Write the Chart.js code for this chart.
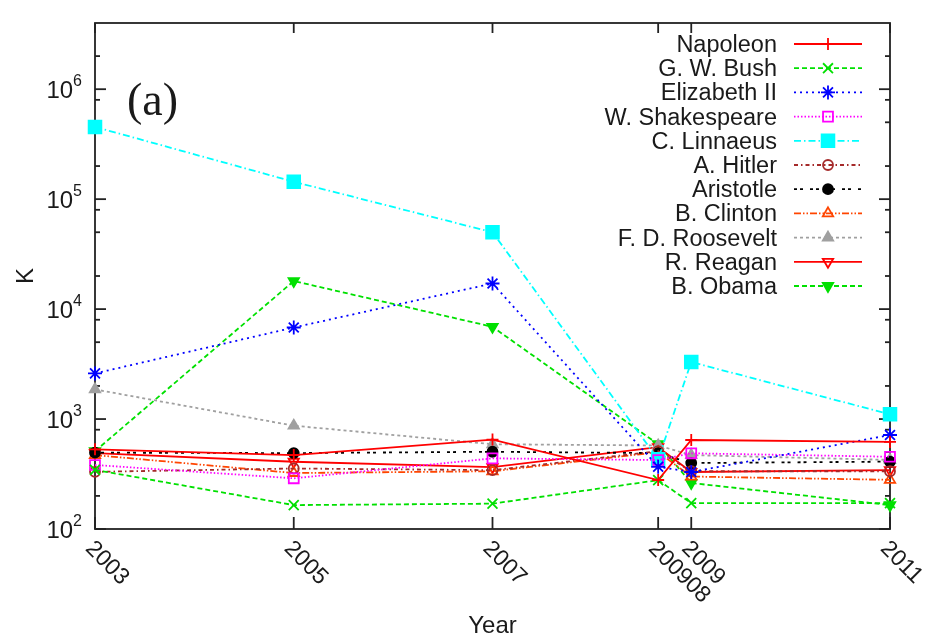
<!DOCTYPE html>
<html>
<head>
<meta charset="utf-8">
<script src="https://cdn.jsdelivr.net/npm/chart.js@4/dist/chart.umd.min.js"></script>
<style>
  html, body { margin: 0; padding: 0; background: #fff; }
</style>
</head>
<body>
<canvas id="kchart" width="933" height="640"></canvas>
<script>
// x positions (200908 sits at Aug 2008) and their tick labels
const years = [2003, 2005, 2007, 2008.667, 2009, 2011];
const yearLabels = ["2003", "2005", "2007", "200908", "2009", "2011"];
const yMajor = [100, 1000, 10000, 100000, 1000000];

const napoleon    = [530, 470, 650, 279, 645, 620];
const gwBush      = [345, 165, 170, 278, 172, 172];
const elizabeth   = [2600, 6800, 17100, 368, 330, 716];
const shakespeare = [382, 289, 439, 424, 488, 454];
const linnaeus    = [454000, 144000, 50000, 430, 3300, 1104];
const hitler      = [331, 355, 343, 510, 335, 335];
const aristotle   = [495, 490, 504, 490, 398, 410];
const clinton     = [470, 323, 335, 500, 300, 280];
const roosevelt   = [1860, 870, 590, 575, 470, 425];
const reagan      = [490, 409, 366, 556, 330, 343];
const obama       = [510, 18000, 6900, 590, 262, 165];

const FONT = '"Liberation Sans", Arial, sans-serif';
const NOFILL = 'rgba(0,0,0,0)';

function pts(vals) {
    let out = [];
    for (let i = 0; i < vals.length; i++) {
        out.push({x: years[i], y: vals[i]});
    }
    return out;
}

function series(label, vals, color, dash, style, radius, fill, rot) {
    return {
        label: label,
        data: pts(vals),
        borderColor: color,
        borderWidth: 1.8,
        borderDash: dash,
        pointStyle: style,
        pointRadius: radius,
        pointBorderWidth: 1.8,
        pointBorderColor: color,
        pointBackgroundColor: fill,
        pointRotation: rot || 0,
        fill: false,
        tension: 0,
        clip: false
    };
}

function line(ctx, x1, y1, x2, y2) {
    ctx.beginPath();
    ctx.moveTo(x1, y1);
    ctx.lineTo(x2, y2);
    ctx.stroke();
}

// gnuplot-like frame: inward ticks on all four sides, custom labels
const axesFrame = {
    id: 'axesFrame',
    beforeDatasetsDraw(chart) {
        const ctx = chart.ctx;
        const ca = chart.chartArea;
        const xs = chart.scales.x;
        const ys = chart.scales.y;
        ctx.save();
        ctx.strokeStyle = '#222';
        ctx.lineWidth = 1.8;
        ctx.strokeRect(ca.left, ca.top, ca.right - ca.left, ca.bottom - ca.top);

        for (let i = 0; i < years.length; i++) {
            let px = xs.getPixelForValue(years[i]);
            line(ctx, px, ca.bottom, px, ca.bottom - 12);
            line(ctx, px, ca.top, px, ca.top + 10);
        }
        for (let i = 0; i < yMajor.length; i++) {
            let py = ys.getPixelForValue(yMajor[i]);
            line(ctx, ca.left, py, ca.left + 11, py);
            line(ctx, ca.right, py, ca.right - 11, py);
            [2, 5, 8].forEach(m => {
                let v = yMajor[i] * m;
                if (v > ys.max) return;
                let pm = ys.getPixelForValue(v);
                line(ctx, ca.left, pm, ca.left + 5, pm);
                line(ctx, ca.right, pm, ca.right - 5, pm);
            });
        }

        // y tick labels 10^n
        ctx.fillStyle = '#1a1a1a';
        ctx.textBaseline = 'alphabetic';
        for (let i = 0; i < yMajor.length; i++) {
            let py = ys.getPixelForValue(yMajor[i]);
            let sup = String(Math.round(Math.log10(yMajor[i])));
            ctx.font = '16px ' + FONT;
            let sw = ctx.measureText(sup).width;
            ctx.textAlign = 'left';
            ctx.fillText(sup, 82 - sw, py - 3);
            ctx.font = '24px ' + FONT;
            ctx.textAlign = 'right';
            ctx.fillText('10', 82 - sw, py + 9);
        }

        // x tick labels, rotated clockwise
        ctx.font = '23px ' + FONT;
        ctx.textAlign = 'left';
        ctx.textBaseline = 'top';
        for (let i = 0; i < years.length; i++) {
            let px = xs.getPixelForValue(years[i]);
            ctx.save();
            ctx.translate(px + 2, ca.bottom + 8);
            ctx.rotate(Math.PI / 4);
            ctx.fillText(yearLabels[i], 0, 0);
            ctx.restore();
        }

        // axis titles
        ctx.font = '24px ' + FONT;
        ctx.textAlign = 'center';
        ctx.textBaseline = 'alphabetic';
        ctx.fillText('Year', (ca.left + ca.right) / 2, 633);
        ctx.save();
        ctx.translate(33, (ca.top + ca.bottom) / 2);
        ctx.rotate(-Math.PI / 2);
        ctx.fillText('K', 0, 0);
        ctx.restore();

        ctx.font = '46px "Liberation Serif", "Times New Roman", serif';
        ctx.textAlign = 'left';
        ctx.fillText('(a)', 127, 115);
        ctx.restore();
    },
    afterDatasetsDraw(chart) {
        const ctx = chart.ctx;
        const sets = chart.data.datasets;
        ctx.save();
        for (let i = 0; i < sets.length; i++) {
            let ds = sets[i];
            let y = 44 + i * 24.2;
            ctx.font = '23.5px ' + FONT;
            ctx.fillStyle = '#1a1a1a';
            ctx.textAlign = 'right';
            ctx.textBaseline = 'alphabetic';
            ctx.fillText(ds.label, 777, y + 8);

            ctx.strokeStyle = ds.borderColor;
            ctx.lineWidth = ds.borderWidth;
            ctx.setLineDash(ds.borderDash || []);
            line(ctx, 794, y, 862, y);
            ctx.setLineDash([]);

            ctx.fillStyle = ds.pointBackgroundColor;
            Chart.helpers.drawPoint(ctx, {
                pointStyle: ds.pointStyle,
                rotation: ds.pointRotation,
                radius: ds.pointRadius,
                borderWidth: ds.pointBorderWidth
            }, 828, y);
        }
        ctx.restore();
    }
};

new Chart(document.getElementById('kchart'), {
    type: 'line',
    data: {
        datasets: [
            series('Napoleon', napoleon, '#ff0000', [], 'cross', 6, NOFILL),
            series('G. W. Bush', gwBush, '#00e000', [5, 3], 'crossRot', 7, NOFILL),
            series('Elizabeth II', elizabeth, '#0000ff', [2, 4], 'star', 7, NOFILL),
            series('W. Shakespeare', shakespeare, '#ff00ff', [1.5, 2], 'rect', 7, NOFILL),
            series('C. Linnaeus', linnaeus, '#00ffff', [7, 3, 1.5, 3], 'rect', 9, '#00ffff'),
            series('A. Hitler', hitler, '#a52a2a', [4, 3, 1.5, 3], 'circle', 5, NOFILL),
            series('Aristotle', aristotle, '#000000', [3, 3, 3, 7], 'circle', 5, '#000000'),
            series('B. Clinton', clinton, '#ff4500', [7, 2, 1.5, 2, 1.5, 2], 'triangle', 6, NOFILL),
            series('F. D. Roosevelt', roosevelt, '#a0a0a0', [3, 3], 'triangle', 6, '#a0a0a0'),
            series('R. Reagan', reagan, '#ff0000', [], 'triangle', 6, NOFILL, 180),
            series('B. Obama', obama, '#00e000', [5, 3], 'triangle', 6, '#00e000', 180)
        ]
    },
    options: {
        responsive: false,
        devicePixelRatio: 1,
        animation: false,
        layout: {
            padding: {left: 95, right: 43, top: 23, bottom: 111}
        },
        scales: {
            x: {type: 'linear', min: 2003, max: 2011, display: false},
            y: {type: 'logarithmic', min: 100, max: 4000000, display: false}
        },
        plugins: {
            legend: {display: false},
            tooltip: {enabled: false}
        }
    },
    plugins: [axesFrame]
});
</script>
</body>
</html>
